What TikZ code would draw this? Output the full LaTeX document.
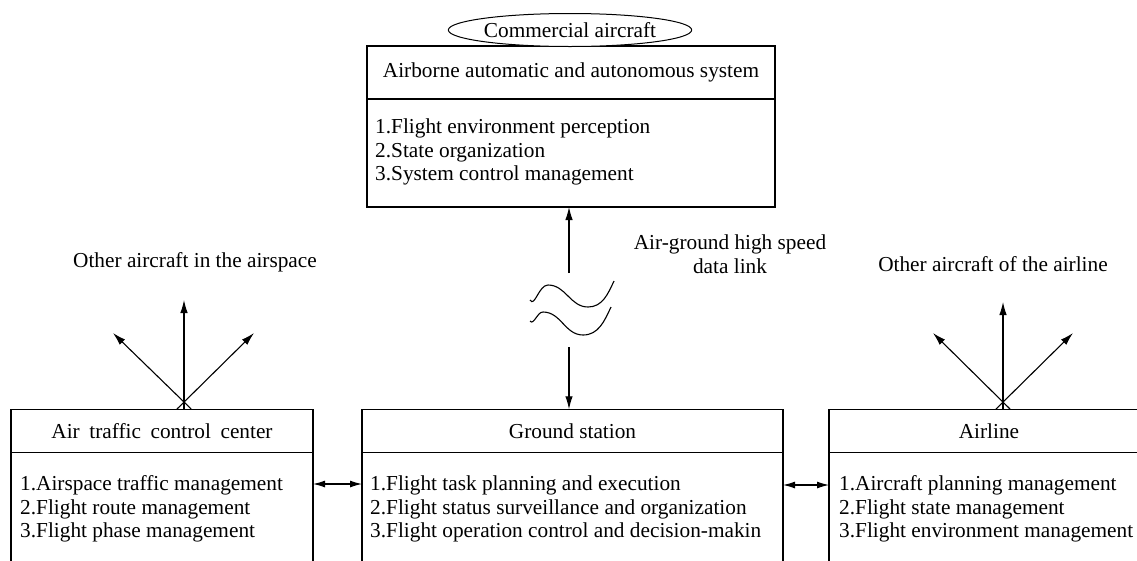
\documentclass[tikz,border=0pt]{standalone}
\usepackage{fontspec}
\setmainfont{Liberation Serif}
\usetikzlibrary{arrows.meta,shapes.geometric}
\begin{document}
\begin{tikzpicture}[x=1pt,y=-1pt,
  every node/.style={font=\fontsize{21.3}{23.6}\selectfont},
  frame/.style={draw,line width=1.2pt,rectangle,inner sep=0pt,outer sep=0pt},
  items/.style={anchor=north west,align=left,inner sep=0pt},
  label/.style={inner sep=0pt},
  tip/.style={Latex[length=13pt,width=7.5pt]},
  arr/.style={line width=1.1pt,-{Latex[length=13pt,width=7.5pt]}},
  dblarr/.style={line width=1.1pt,{Latex[length=12pt,width=7pt]}-{Latex[length=12pt,width=7pt]}},
  wave/.style={line width=1.1pt}]
\useasboundingbox (0,0) rectangle (1137,560);
\clip (0,0) rectangle (1137,560);

% airborne system
\node[frame,minimum width=408pt,minimum height=53pt] (airH) at (571,72.5)
  {Airborne automatic and autonomous system};
\node[frame,minimum width=408pt,minimum height=108pt,anchor=north] (airB) at (airH.south) {};
\node[anchor=west,align=left,inner sep=0pt] (airT) at (375,152)
  {1.Flight environment perception\\2.State organization\\3.System control management};
\node[draw,ellipse,line width=1pt,inner sep=0pt,minimum width=214pt,minimum height=33pt,fill=white] (craft) at (570,30)
  {Commercial aircraft};

% ground-side boxes
\node[frame,minimum width=302pt,minimum height=43.5pt] (atcH) at (162,431)
  {Air\hspace{0.45em}traffic\hspace{0.45em}control\hspace{0.45em}center};
\node[frame,minimum width=302pt,minimum height=130pt,anchor=north] (atcB) at (atcH.south) {};
\node[items] (atcT) at (20,475.5)
  {1.Airspace traffic management\\2.Flight route management\\3.Flight phase management};

\node[frame,minimum width=421pt,minimum height=43.5pt] (gsH) at (572.5,431)
  {Ground station};
\node[frame,minimum width=421pt,minimum height=130pt,anchor=north] (gsB) at (gsH.south) {};
\node[items] (gsT) at (370,475.5)
  {1.Flight task planning and execution\\2.Flight status surveillance and organization\\3.Flight operation control and decision-makin};

\node[frame,minimum width=320pt,minimum height=43.5pt] (alH) at (989,431)
  {Airline};
\node[frame,minimum width=320pt,minimum height=130pt,anchor=north] (alB) at (alH.south) {};
\node[items] (alT) at (839,475.5)
  {1.Aircraft planning management\\2.Flight state management\\3.Flight environment management};

% links between ground-side boxes
\coordinate (hL) at (0,484);
\coordinate (hR) at (0,485);
\draw[dblarr] (atcB.east |- hL) -- (gsB.west |- hL);
\draw[dblarr] (gsB.east |- hR) -- (alB.west |- hR);

% air-ground data link
\coordinate (linkTop) at (569,273);
\coordinate (linkBot) at (569,347);
\draw[arr] (linkTop) -- (linkTop |- airB.south);
\draw[arr] (linkBot) -- (linkBot |- gsH.north);
\draw[wave] (530,300) to[out=-60,in=180] (548,285) to[out=0,in=180] (588,307) to[out=0,in=-115] (614,281);
\draw[wave] (530,321) to[out=-50,in=180] (543,312) to[out=0,in=180] (583,335) to[out=0,in=-115] (611,307);
\node[label,align=center,anchor=north] (linkL) at (730,234.5) {Air-ground high speed\\data link};

% fan of links from the control center
\coordinate (atcX) at (184,409);
\coordinate (atcUp) at (184,300);
\coordinate (atcUL) at (113,333);
\coordinate (atcUR) at (254,333);
\coordinate (atcSL) at (191.2,409);
\coordinate (atcSR) at (177,409);
\draw[arr] (atcX) -- (atcUp);
\draw[arr] (atcSL) -- (atcUL);
\draw[arr] (atcSR) -- (atcUR);
\node[label,anchor=base] (atcL) at (195,267) {Other aircraft in the airspace};

% fan of links from the airline
\coordinate (alX) at (1003,409);
\coordinate (alUp) at (1003,302);
\coordinate (alUL) at (933,333);
\coordinate (alUR) at (1073,333);
\coordinate (alSL) at (1010,409);
\coordinate (alSR) at (996,409);
\draw[arr] (alX) -- (alUp);
\draw[arr] (alSL) -- (alUL);
\draw[arr] (alSR) -- (alUR);
\node[label,anchor=base] (alL) at (993,271) {Other aircraft of the airline};
\end{tikzpicture}
\end{document}
